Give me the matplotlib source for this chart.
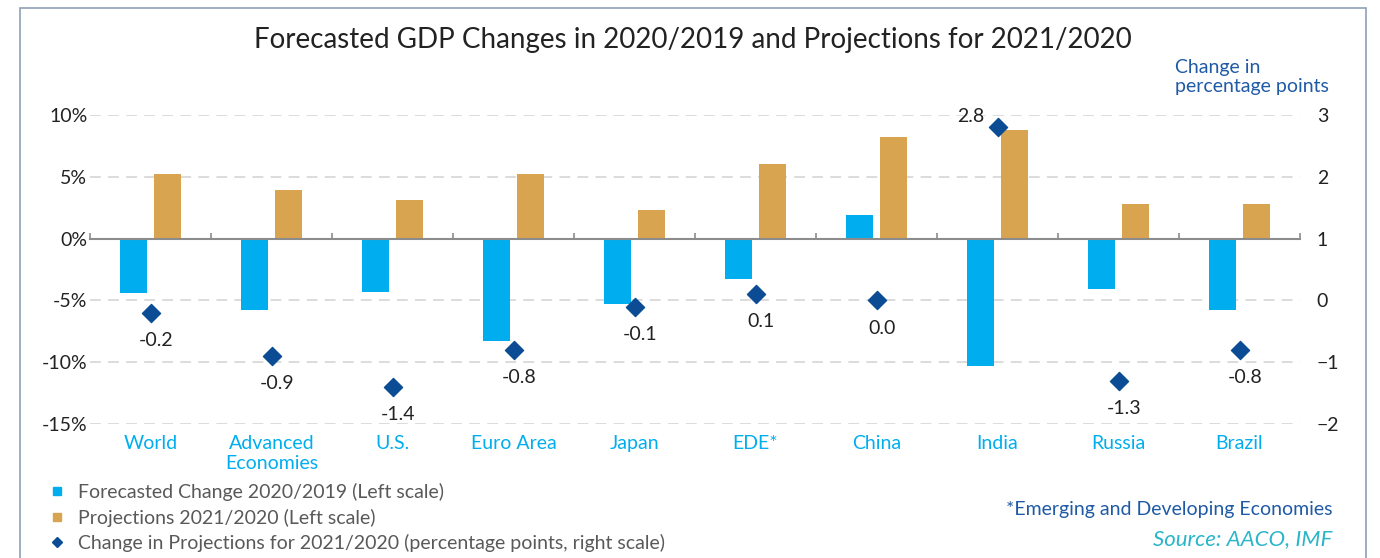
import matplotlib
matplotlib.use("Agg")
import matplotlib.pyplot as plt
from matplotlib.lines import Line2D
from matplotlib.patches import Rectangle
import numpy as np

plt.rcParams['font.family'] = ['Lato', 'DejaVu Sans']

categories = ["World", "Advanced\nEconomies", "U.S.", "Euro Area", "Japan",
              "EDE*", "China", "India", "Russia", "Brazil"]
forecast_2020 = [-4.4, -5.8, -4.3, -8.3, -5.3, -3.3, 1.9, -10.3, -4.1, -5.8]
proj_2021 = [5.2, 3.9, 3.1, 5.2, 2.3, 6.0, 8.2, 8.8, 2.8, 2.8]
change_pp = [-0.2, -0.9, -1.4, -0.8, -0.1, 0.1, 0.0, 2.8, -1.3, -0.8]
left_ticks = [-15, -10, -5, 0, 5, 10]
right_ticks = [-2, -1, 0, 1, 2, 3]

C_BLUE = "#00AEEF"
C_GOLD = "#D9A44F"
C_DIAM = "#0B4C94"
C_TEXT = "#222222"

W, H = 1380, 558
fig = plt.figure(figsize=(W / 100, H / 100), dpi=100)

# outer frame
fig.patches.append(Rectangle((20 / W, -0.05), (1366 - 20) / W, 1 - 8 / H + 0.05,
                             transform=fig.transFigure, fill=False,
                             edgecolor="#8EA0B5", linewidth=1.2))

ax = fig.add_axes([90 / W, 1 - 424 / H, 1210 / W, (424 - 115) / H])
x = np.arange(len(categories))
bw = 0.223
off = 0.142
ax.bar(x - off, forecast_2020, width=bw, color=C_BLUE, zorder=3)
ax.bar(x + off, proj_2021, width=bw, color=C_GOLD, zorder=3)
ax.set_xlim(-0.5, len(categories) - 0.5)
ax.set_ylim(left_ticks[0], left_ticks[-1])
ax.set_yticks(left_ticks)
ax.set_yticklabels([f"{t}%" for t in left_ticks])
ax.tick_params(axis='y', length=0, pad=2, labelsize=14, labelcolor=C_TEXT)
for t in left_ticks:
    if t != 0:
        ax.axhline(t, color="#D9D9D9", linestyle=(0, (6, 4)), linewidth=1.3, zorder=1)
for s in ['left', 'right', 'top']:
    ax.spines[s].set_visible(False)
ax.spines['bottom'].set_position(('data', 0))
ax.spines['bottom'].set_color("#8C8C8C")
ax.spines['bottom'].set_linewidth(1.5)
ax.spines['bottom'].set_zorder(4)
ax.set_xticks(np.arange(len(categories) + 1) - 0.5)
ax.set_xticklabels([])
ax.tick_params(axis='x', direction='in', length=4, width=1.2, color="#8C8C8C")

for i, c in enumerate(categories):
    ax.text(i, -0.035, c, transform=ax.get_xaxis_transform(), ha='center', va='top',
            color=C_BLUE, fontsize=14, linespacing=1.2)

ax2 = ax.twinx()
ax2.set_ylim(right_ticks[0], right_ticks[-1])
ax2.set_yticks(right_ticks)
ax2.tick_params(axis='y', length=0, pad=12, labelsize=14, labelcolor=C_TEXT)
for s in ['left', 'right', 'top', 'bottom']:
    ax2.spines[s].set_visible(False)
ax2.scatter(x, change_pp, marker='D', s=85, color=C_DIAM, zorder=5)
for i, v in enumerate(change_pp):
    if v > 2:
        ax2.annotate(f"{v:.1f}", (i, v), xytext=(-19, 8), textcoords='offset points',
                     ha='center', va='center', fontsize=14, color=C_TEXT)
    else:
        ax2.annotate(f"{v:.1f}", (i, v), xytext=(4, -20), textcoords='offset points',
                     ha='center', va='center', fontsize=14, color=C_TEXT)

fig.text(0.502, 1 - 40 / H, "Forecasted GDP Changes in 2020/2019 and Projections for 2021/2020",
         ha='center', va='center', fontsize=20, color=C_TEXT)
fig.text(1175 / W, 1 - 77 / H, "Change in\npercentage points", ha='left', va='center',
         fontsize=14, color="#1F5AA6", linespacing=1.12)

handles = [
    Line2D([], [], marker='s', linestyle='none', markersize=6, color=C_BLUE),
    Line2D([], [], marker='s', linestyle='none', markersize=6, color=C_GOLD),
    Line2D([], [], marker='D', linestyle='none', markersize=5, color=C_DIAM),
]
labels = ["Forecasted Change 2020/2019 (Left scale)",
          "Projections 2021/2020 (Left scale)",
          "Change in Projections for 2021/2020 (percentage points, right scale)"]
fig.legend(handles, labels, loc='upper left', bbox_to_anchor=(45 / W, 1 - 483 / H),
           frameon=False, fontsize=14, labelcolor="#595959", handletextpad=0.5,
           labelspacing=0.38, borderaxespad=0, borderpad=0, handlelength=1.2)

fig.text(1332 / W, 1 - 510 / H, "*Emerging and Developing Economies", ha='right',
         va='center', fontsize=14, color="#1F5AA6")
fig.text(1332 / W, 1 - 539 / H, "Source: AACO, IMF", ha='right', va='center',
         fontsize=16, color="#2AB5C8", style='italic')

fig.savefig("out.png", dpi=100)
